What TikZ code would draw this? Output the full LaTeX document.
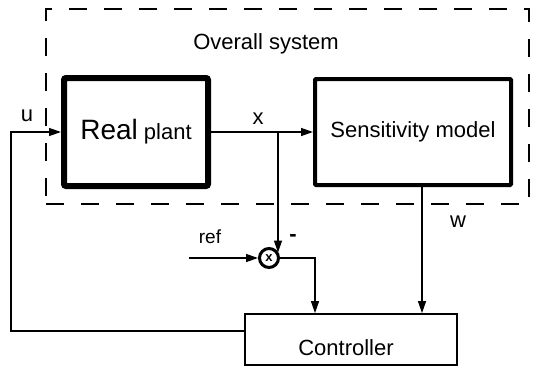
\documentclass[tikz,border=0pt]{standalone}
\usepackage{fontspec}
\setmainfont{Liberation Sans}
\usetikzlibrary{arrows.meta}

\begin{document}
\begin{tikzpicture}[x=1pt,y=-1pt,
  >={Triangle[length=12pt,width=8pt]},
  flow/.style={->,line width=1.3pt},
  txt/.style={font=\fontsize{22}{24}\selectfont,inner sep=0pt},
  sysbox/.style={draw,line width=1.5pt,dash pattern=on 18pt off 17pt,minimum width=483pt,minimum height=195pt,inner sep=0pt},
  plantbox/.style={draw,line width=6pt,rounded corners=2pt,minimum width=144pt,minimum height=108pt,inner sep=0pt},
  modelbox/.style={draw,line width=4pt,rounded corners=1pt,minimum width=196pt,minimum height=106pt,inner sep=0pt,font=\fontsize{22}{24}\selectfont},
  ctrlbox/.style={draw,line width=1.8pt,minimum width=212pt,minimum height=51pt,inner sep=0pt},
  junc/.style={draw,circle,line width=3pt,minimum size=19pt,inner sep=0pt,font=\bfseries\fontsize{13}{13}\selectfont}]
\useasboundingbox (0,0) rectangle (537,369);
\node[sysbox] (overall) at (287.5,106.5) {};
\node[txt] (title) at (266,44) {Overall system};
\node[plantbox] (plant) at (136,132) {\fontsize{28}{30}\selectfont Real\fontsize{22}{24}\selectfont\ plant};
\node[modelbox] (model) at (413,132) {Sensitivity model};
\node[ctrlbox] (ctrl) at (351,339.5) {};
\node[txt] (ctrltext) at (346,348) {Controller};
\node[junc] (sum) at (269,258) {x};
\coordinate (split) at (278,132);
\coordinate (refin) at (189,258);
\coordinate (turn) at (315,258);
\coordinate (fb) at (11,331);
\draw[flow] (plant) -- (model);
\draw[flow] (split) -- (split |- sum.30);
\draw[flow] (refin) -- (sum);
\draw[flow] (sum) -| (turn |- ctrl.north);
\draw[flow] ([xshift=9pt]model.south) -- ([xshift=9pt]model.south |- ctrl.north);
\draw[flow] (ctrl.west |- fb) -- (fb) |- (plant);
\node[txt] (ulbl) at (27,116) {u};
\node[txt] (xlbl) at (258,119) {x};
\node[txt] (wlbl) at (458,222) {w};
\node[txt,font=\fontsize{19}{20}\selectfont] (reflbl) at (210,237) {ref};
\node[txt,font=\bfseries\fontsize{22}{24}\selectfont] (minus) at (293,238) {-};
\end{tikzpicture}
\end{document}
